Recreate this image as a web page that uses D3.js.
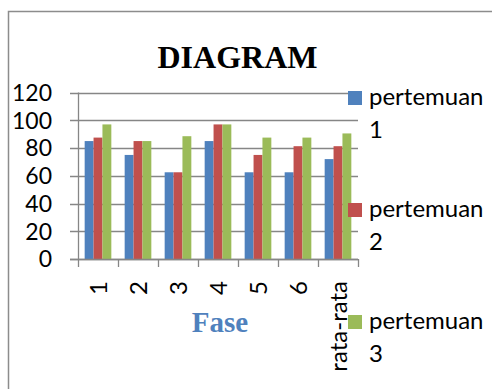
<!DOCTYPE html>
<html>
<head>
<meta charset="utf-8">
<script src="https://cdn.jsdelivr.net/npm/d3@7"></script>
<style>
  html, body { margin: 0; padding: 0; background: #fff; }
  svg { display: block; }
</style>
</head>
<body>
<svg id="chart" width="492" height="389"></svg>
<script>
const categories = ["1", "2", "3", "4", "5", "6", "rata-rata"];
const seriesNames = ["pertemuan 1", "pertemuan 2", "pertemuan 3"];
const pertemuan1 = [85, 75, 62.5, 85, 62.5, 62.5, 72];
const pertemuan2 = [87.5, 85, 62.5, 97, 75, 81.3, 81.3];
const pertemuan3 = [97, 85, 88.5, 97, 87.5, 87.5, 90.5];
const yTicks = [0, 20, 40, 60, 80, 100, 120];
const colors = ["#4F81BD", "#C0504D", "#9BBB59"];

const seriesValues = [pertemuan1, pertemuan2, pertemuan3];
const svg = d3.select("#chart");
const sansFont = "Lato, 'Open Sans', sans-serif";
const serifFont = "'Liberation Serif', 'DejaVu Serif', serif";

// chart frame
svg.append("rect")
  .attr("x", 8.5).attr("y", 11.5)
  .attr("width", 520).attr("height", 420)
  .attr("fill", "none").attr("stroke", "#8c8c8c").attr("stroke-width", 1.5);

const x = d3.scaleBand().domain(categories).range([78, 358]).padding(0);
const bw = x.bandwidth();
const xs = d3.scaleBand().domain(seriesNames).range([bw / 6, bw * 5 / 6]).padding(0);
const y = d3.scaleLinear().domain([0, 120]).range([259, 92.5]);

// gridlines
svg.append("g").selectAll("line").data(yTicks).join("line")
  .attr("x1", 70).attr("x2", 358)
  .attr("y1", d => Math.round(y(d)) + 0.5).attr("y2", d => Math.round(y(d)) + 0.5)
  .attr("stroke", "#868686").attr("stroke-width", 1.3);

// y axis line
svg.append("line")
  .attr("x1", 78.5).attr("x2", 78.5).attr("y1", y(120)).attr("y2", 260)
  .attr("stroke", "#868686").attr("stroke-width", 1.3);

// y tick labels
svg.append("g").selectAll("text").data(yTicks).join("text")
  .attr("x", 52).attr("y", d => y(d)).attr("dy", "0.36em")
  .attr("text-anchor", "end")
  .attr("font-family", sansFont).attr("font-size", 23).attr("fill", "#000")
  .text(d => d);

// bars
const groups = svg.append("g").selectAll("g").data(categories).join("g")
  .attr("transform", d => `translate(${x(d)},0)`);
groups.selectAll("rect")
  .data((c, i) => seriesNames.map((s, k) => ({ s, k, v: seriesValues[k][i] })))
  .join("rect")
  .attr("x", d => xs(d.s))
  .attr("width", xs.bandwidth())
  .attr("y", d => y(d.v))
  .attr("height", d => y(0) - y(d.v))
  .attr("fill", d => colors[d.k]);

// x axis line and ticks
svg.append("line")
  .attr("x1", 70).attr("x2", 358).attr("y1", 259.5).attr("y2", 259.5)
  .attr("stroke", "#868686").attr("stroke-width", 1.3);
const boundaries = categories.map(c => x(c)).concat([x(categories[categories.length - 1]) + bw]);
svg.append("g").selectAll("line").data(boundaries).join("line")
  .attr("x1", d => Math.round(d) + 0.5).attr("x2", d => Math.round(d) + 0.5)
  .attr("y1", 259).attr("y2", 267)
  .attr("stroke", "#868686").attr("stroke-width", 1.3);

// x tick labels (rotated)
svg.append("g").selectAll("text").data(categories).join("text")
  .attr("transform", d => `translate(${x(d) + bw / 2},281) rotate(-90)`)
  .attr("text-anchor", "end").attr("dy", "0.36em")
  .attr("font-family", sansFont).attr("font-size", 24).attr("fill", "#000")
  .text(d => d);

// title
svg.append("text")
  .attr("x", 237.5).attr("y", 68).attr("text-anchor", "middle")
  .attr("font-family", serifFont).attr("font-weight", "bold").attr("font-size", 32)
  .attr("fill", "#000").text("DIAGRAM");

// axis title
svg.append("text")
  .attr("x", 220).attr("y", 332).attr("text-anchor", "middle")
  .attr("font-family", serifFont).attr("font-weight", "bold").attr("font-size", 29)
  .attr("fill", "#4F81BD").text("Fase");

// legend
const legendTop = [91, 203, 315];
const leg = svg.append("g").selectAll("g").data(seriesNames).join("g")
  .attr("transform", (d, i) => `translate(348,${legendTop[i]})`);
leg.append("rect").attr("x", 0).attr("y", 0).attr("width", 14).attr("height", 14)
  .attr("fill", (d, i) => colors[i]);
const lt = leg.append("text")
  .attr("font-family", sansFont).attr("font-size", 24).attr("fill", "#000");
lt.append("tspan").attr("x", 21).attr("y", 14).text(d => d.split(" ")[0]);
lt.append("tspan").attr("x", 21).attr("y", 47).text(d => d.split(" ")[1]);
</script>
</body>
</html>
